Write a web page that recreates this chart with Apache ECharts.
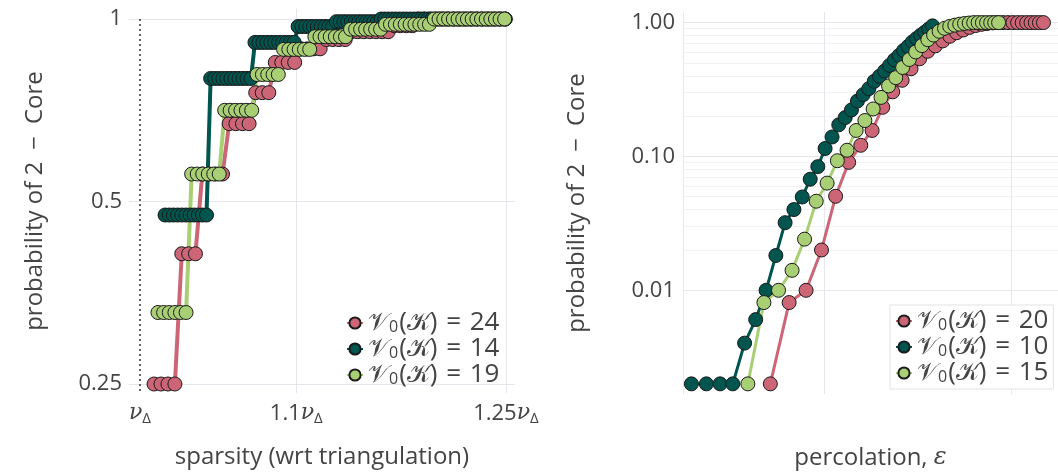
<!DOCTYPE html>
<html>
<head>
<meta charset="utf-8">
<script src="https://cdn.jsdelivr.net/npm/echarts@6/dist/echarts.min.js"></script>
<style>
html, body { margin: 0; padding: 0; background: #fff; }
#chart { width: 1058px; height: 475px; }
</style>
</head>
<body>
<div id="chart"></div>
<script>
// ---- left panel: probability of 2-core vs sparsity (x in units of nu_Delta) ----
const sparsity24 = [1.0086, 1.0129, 1.0172, 1.0215, 1.0258, 1.0301, 1.0344, 1.0387, 1.0430, 1.0473,
  1.0516, 1.0559, 1.0602, 1.0645, 1.0688, 1.0731, 1.0774, 1.0817, 1.0860, 1.0903,
  1.0946, 1.0989, 1.1032, 1.1075, 1.1118, 1.1161, 1.1204, 1.1247, 1.1290, 1.1333,
  1.1376, 1.1419, 1.1462, 1.1505, 1.1548, 1.1591, 1.1634, 1.1677, 1.1720, 1.1763,
  1.1806, 1.1849, 1.1892, 1.1935, 1.1978, 1.2021, 1.2064, 1.2107, 1.2150, 1.2193,
  1.2236, 1.2279, 1.2322, 1.2365, 1.2408, 1.2451, 1.2494]
const core24 = [0.25, 0.25, 0.25, 0.25, 0.41, 0.41, 0.41, 0.555, 0.555, 0.555,
  0.555, 0.672, 0.672, 0.672, 0.672, 0.756, 0.756, 0.756, 0.848, 0.848,
  0.848, 0.848, 0.893, 0.893, 0.893, 0.893, 0.925, 0.925, 0.925, 0.925,
  0.953, 0.953, 0.953, 0.953, 0.953, 0.953, 0.953, 0.975, 0.975, 0.975,
  0.975, 1, 1, 1, 1, 1, 1, 1, 1, 1,
  1, 1, 1, 1, 1, 1, 1]

const sparsity14 = [1.0154, 1.0180, 1.0206, 1.0232, 1.0258, 1.0284, 1.0310, 1.0336, 1.0362, 1.0388,
  1.0414, 1.0440, 1.0466, 1.0492, 1.0518, 1.0544, 1.0570, 1.0596, 1.0622, 1.0648,
  1.0674, 1.0700, 1.0726, 1.0752, 1.0778, 1.0804, 1.0830, 1.0856, 1.0882, 1.0908,
  1.0934, 1.0960, 1.0986, 1.1012, 1.1038, 1.1064, 1.1090, 1.1116, 1.1142, 1.1168,
  1.1194, 1.1220, 1.1246, 1.1272, 1.1298, 1.1324, 1.1350, 1.1376, 1.1402, 1.1428,
  1.1454, 1.1480, 1.1506, 1.1532, 1.1558, 1.1584, 1.1610, 1.1636, 1.1662, 1.1688,
  1.1714, 1.1740, 1.1766, 1.1792, 1.1818, 1.1844, 1.1870, 1.1896, 1.1922, 1.1948,
  1.1974, 1.2000, 1.2026, 1.2052, 1.2078, 1.2104, 1.2130, 1.2156, 1.2182, 1.2208,
  1.2234, 1.2260, 1.2286, 1.2312, 1.2338, 1.2364, 1.2390, 1.2416, 1.2442, 1.2468,
  1.2494]
const core14 = [0.475, 0.475, 0.475, 0.475, 0.475, 0.475, 0.475, 0.475, 0.475, 0.475,
  0.475, 0.798, 0.798, 0.798, 0.798, 0.798, 0.798, 0.798, 0.798, 0.798,
  0.798, 0.798, 0.915, 0.915, 0.915, 0.915, 0.915, 0.915, 0.915, 0.915,
  0.915, 0.915, 0.915, 0.972, 0.972, 0.972, 0.972, 0.972, 0.972, 0.972,
  0.972, 0.972, 0.972, 0.99, 0.99, 0.99, 0.99, 0.99, 0.99, 0.99,
  0.99, 0.99, 0.99, 0.99, 0.99, 1, 1, 1, 1, 1,
  1, 1, 1, 1, 1, 1, 1, 1, 1, 1,
  1, 1, 1, 1, 1, 1, 1, 1, 1, 1,
  1, 1, 1, 1, 1, 1, 1, 1, 1, 1,
  1]

const sparsity19 = [1.0110, 1.0145, 1.0180, 1.0215, 1.0250, 1.0285, 1.0320, 1.0355, 1.0390, 1.0425,
  1.0460, 1.0495, 1.0530, 1.0565, 1.0600, 1.0635, 1.0670, 1.0705, 1.0740, 1.0775,
  1.0810, 1.0845, 1.0880, 1.0915, 1.0950, 1.0985, 1.1020, 1.1055, 1.1090, 1.1125,
  1.1160, 1.1195, 1.1230, 1.1265, 1.1300, 1.1335, 1.1370, 1.1405, 1.1440, 1.1475,
  1.1510, 1.1545, 1.1580, 1.1615, 1.1650, 1.1685, 1.1720, 1.1755, 1.1790, 1.1825,
  1.1860, 1.1895, 1.1930, 1.1965, 1.2000, 1.2035, 1.2070, 1.2105, 1.2140, 1.2175,
  1.2210, 1.2245, 1.2280, 1.2315, 1.2350, 1.2385, 1.2420, 1.2455, 1.2490]
const core19 = [0.328, 0.328, 0.328, 0.328, 0.328, 0.328, 0.555, 0.555, 0.555, 0.555,
  0.555, 0.555, 0.707, 0.707, 0.707, 0.707, 0.707, 0.707, 0.81, 0.81,
  0.81, 0.81, 0.81, 0.891, 0.891, 0.891, 0.891, 0.891, 0.891, 0.935,
  0.935, 0.935, 0.935, 0.935, 0.935, 0.935, 0.962, 0.962, 0.962, 0.962,
  0.962, 0.962, 0.962, 0.98, 0.98, 0.98, 0.98, 0.98, 0.98, 0.98,
  0.98, 0.98, 0.98, 1, 1, 1, 1, 1, 1, 1,
  1, 1, 1, 1, 1, 1, 1, 1, 1]

// ---- right panel: probability of 2-core vs percolation ----
const eps20 = [0.0728, 0.0813, 0.0898, 0.0983, 0.1068, 0.1153, 0.1238, 0.1323, 0.1408, 0.1493,
  0.1578, 0.1663, 0.1748, 0.1833, 0.1918, 0.2003, 0.2088, 0.2173, 0.2258, 0.2343,
  0.2428, 0.2513, 0.2598, 0.2683, 0.2768, 0.2853, 0.2938, 0.3023, 0.3108, 0.3193,
  0.3278, 0.3363, 0.3448, 0.3533, 0.3618]
const perc20 = [0.002, 0.0081, 0.0100, 0.0200, 0.0504, 0.0903, 0.1212, 0.1564, 0.233, 0.3039,
  0.3707, 0.4522, 0.5364, 0.6104, 0.67, 0.73, 0.79, 0.84, 0.88, 0.92,
  0.95, 0.97, 0.985, 0.995, 1, 1, 1, 1, 1, 1,
  1, 1, 1, 1, 1]

const eps10 = [0.0458, 0.0500, 0.0542, 0.0584, 0.0626, 0.0668, 0.0710, 0.0752, 0.0794, 0.0836,
  0.0878, 0.0920, 0.0962, 0.1004, 0.1046, 0.1088, 0.1130, 0.1172, 0.1214, 0.1256,
  0.1298, 0.1340, 0.1382, 0.1424, 0.1466, 0.1508, 0.1550, 0.1592, 0.1634, 0.1676,
  0.1718, 0.1760, 0.1802, 0.1844, 0.1886]
const perc10 = [0.002, 0.002, 0.002, 0.002, 0.00403, 0.00604, 0.0100, 0.0182, 0.0320, 0.0401,
  0.0498, 0.0676, 0.0839, 0.1146, 0.1398, 0.1723, 0.1952, 0.2226, 0.2594, 0.2896,
  0.3208, 0.3644, 0.3969, 0.4350, 0.4786, 0.5256, 0.5673, 0.6189, 0.6625, 0.7176,
  0.7604, 0.8044, 0.8465, 0.8937, 0.9454]

const eps15 = [0.0638, 0.0701, 0.0764, 0.0827, 0.0890, 0.0953, 0.1016, 0.1079, 0.1142, 0.1205,
  0.1268, 0.1331, 0.1394, 0.1457, 0.1520, 0.1583, 0.1646, 0.1709, 0.1772, 0.1835,
  0.1898, 0.1961, 0.2024, 0.2087, 0.2150, 0.2213, 0.2276, 0.2339, 0.2402, 0.2465,
  0.2528, 0.2591, 0.2654, 0.2717, 0.2780]
const perc15 = [0.002, 0.0081, 0.0100, 0.0141, 0.0241, 0.0463, 0.0632, 0.0929, 0.1113, 0.1564,
  0.1855, 0.2263, 0.2762, 0.3365, 0.388, 0.462, 0.530, 0.604, 0.673, 0.745,
  0.807, 0.861, 0.906, 0.937, 0.957, 0.973, 0.985, 0.993, 1, 1,
  1, 1, 1, 1, 1]

// tick / grid values
const leftLabelsX = [1, 1.1, 1.25]
const leftGridX = [1.1, 1.25]
const leftGridY = [0.25, 0.5, 1]
const rightGridX = [0.1, 0.3]
const rightMajorY = [0.01, 0.1, 1]
const rightMinorY = [0.002, 0.003, 0.004, 0.005, 0.006, 0.007, 0.008, 0.009,
  0.02, 0.03, 0.04, 0.05, 0.06, 0.07, 0.08, 0.09,
  0.2, 0.3, 0.4, 0.5, 0.6, 0.7, 0.8, 0.9]

const red = '#CC6677'
const teal = '#00554F'
const green = '#A9CF74'
const textColor = '#444444'
const gridColor = '#E6E6EC'
const minorColor = '#F2F2F5'
const font = "'Open Sans', 'DejaVu Sans', sans-serif"
const mathFont = "'DejaVu Serif', 'DejaVu Sans', serif"

const zip = (xs, ys) => xs.map((x, i) => [x, ys[i]])

function makeSeries(name, color, xs, ys, axis, width) {
    return {
        name: name,
        type: 'line',
        xAxisIndex: axis,
        yAxisIndex: axis,
        data: zip(xs, ys),
        symbol: 'circle',
        symbolSize: 14,
        clip: false,
        z: 3,
        itemStyle: {color: color, borderColor: '#1a1a1a', borderWidth: 1},
        lineStyle: {color: color, width: width},
        emphasis: {disabled: true}
    }
}

const gridLine = (c, w) => ({color: c, width: w, type: 'solid'})

const series = [
    makeSeries('𝒱₀(𝒦) = 24', red, sparsity24, core24, 0, 4),
    makeSeries('𝒱₀(𝒦) = 14', teal, sparsity14, core14, 0, 4),
    makeSeries('𝒱₀(𝒦) = 19', green, sparsity19, core19, 0, 4),
    makeSeries('𝒱₀(𝒦) = 20', red, eps20, perc20, 1, 3),
    makeSeries('𝒱₀(𝒦) = 10', teal, eps10, perc10, 1, 3),
    makeSeries('𝒱₀(𝒦) = 15', green, eps15, perc15, 1, 3)
]

// grid lines as mark lines under the data
series[0].markLine = {
    silent: true, symbol: ['none', 'none'], z: 1, animation: false,
    label: {show: false},
    lineStyle: gridLine(gridColor, 1),
    data: leftGridX.map(v => ({xAxis: v})).concat(leftGridY.map(v => ({yAxis: v}))).concat([
        [{coord: [1, 1], lineStyle: {color: '#333', width: 1.5, type: [2, 3]}},
         {coord: [1, 0.2416]}]
    ])
}
series[3].markLine = {
    silent: true, symbol: ['none', 'none'], z: 1, animation: false,
    label: {show: false},
    lineStyle: gridLine(gridColor, 1),
    data: rightMinorY.map(v => ({yAxis: v, lineStyle: gridLine(minorColor, 1)}))
        .concat(rightMajorY.map(v => ({yAxis: v})))
        .concat(rightGridX.map(v => ({xAxis: v})))
}

const labelStyle = {color: textColor, fontSize: 22, fontFamily: font}
const nameStyle = {color: textColor, fontSize: 24, fontFamily: font}

// legend text: calligraphic V_0(K) = n
const legendText = {
    color: textColor, fontSize: 26, lineHeight: 26, fontFamily: font,
    rich: {
        c: {fontFamily: mathFont, fontSize: 25, color: textColor},
        s: {fontFamily: font, fontSize: 16, color: textColor, padding: [9, 1, 0, 0]},
        t: {fontFamily: font, fontSize: 26, color: textColor}
    }
}
const legendFormat = name => '{c|𝒱}{s|0}{t|(}{c|𝒦}{t|)\u2004=\u2004' + name.split('= ')[1] + '}'

const option = {
    animation: false,
    backgroundColor: '#ffffff',
    grid: [
        {left: 129, right: 543, top: 9, bottom: 82},
        {left: 683, right: -12, top: 12, bottom: 77}
    ],
    xAxis: [
        {
            type: 'log', gridIndex: 0, min: 0.99332, max: 1.2569,
            axisLine: {show: false}, axisTick: {show: false}, splitLine: {show: false},
            axisLabel: {
                customValues: leftLabelsX, margin: 8,
                showMinLabel: true, showMaxLabel: true,
                formatter: v => (Math.abs(v - 1) < 1e-6 ? '' : (Math.abs(v - 1.1) < 1e-6 ? '1.1' : '1.25')) + '{n|ν}{s|Δ}',
                rich: {
                    n: {fontSize: 22, fontFamily: mathFont, fontStyle: 'italic', color: textColor},
                    s: {fontSize: 15, fontFamily: font, color: textColor, padding: [10, 0, 0, 0]}
                },
                ...labelStyle
            },
            name: 'sparsity (wrt triangulation)', nameLocation: 'middle', nameGap: 52,
            nameTextStyle: nameStyle
        },
        {
            type: 'log', gridIndex: 1, min: 0.0436, max: 0.394,
            axisLine: {show: false}, axisTick: {show: false}, splitLine: {show: false},
            axisLabel: {show: false},
            name: 'percolation, {e|ε}', nameLocation: 'middle', nameGap: 52,
            nameTextStyle: {...nameStyle, rich: {e: {fontSize: 24, fontFamily: mathFont, fontStyle: 'italic', color: textColor}}}
        }
    ],
    yAxis: [
        {
            type: 'log', logBase: 2, gridIndex: 0, min: 0.2416, max: 1.0388,
            axisLine: {show: false}, axisTick: {show: false}, splitLine: {show: false},
            axisLabel: {
                customValues: leftGridY, margin: 7,
                formatter: v => String(+(+v).toFixed(2)),
                ...labelStyle
            },
            name: 'probability of 2\u2002−\u2002Core', nameLocation: 'middle', nameGap: 82,
            nameTextStyle: nameStyle
        },
        {
            type: 'log', gridIndex: 1, min: 0.00168, max: 1.2,
            axisLine: {show: true, lineStyle: {color: gridColor, width: 1}},
            axisTick: {show: false}, splitLine: {show: false},
            axisLabel: {
                customValues: rightMajorY, margin: 8,
                formatter: v => (+v).toFixed(2),
                ...labelStyle
            },
            name: 'probability of 2\u2002−\u2002Core', nameLocation: 'middle', nameGap: 94,
            nameTextStyle: nameStyle
        }
    ],
    legend: [
        {
            data: series.slice(0, 3).map(s => s.name),
            formatter: legendFormat,
            orient: 'vertical', left: 341, top: 305,
            itemWidth: 16, itemHeight: 14, itemGap: 0,
            textStyle: legendText,
            selectedMode: false
        },
        {
            data: series.slice(3).map(s => s.name),
            formatter: legendFormat,
            orient: 'vertical', left: 890, top: 305,
            padding: [3, 5, 3, 5],
            borderColor: '#E2E2E6', borderWidth: 1, backgroundColor: '#ffffff',
            itemWidth: 16, itemHeight: 14, itemGap: 0,
            textStyle: legendText,
            selectedMode: false
        }
    ],
    series: series
}

const myChart = echarts.init(document.getElementById('chart'), null, {renderer: 'canvas'})
myChart.setOption(option)
</script>
</body>
</html>
